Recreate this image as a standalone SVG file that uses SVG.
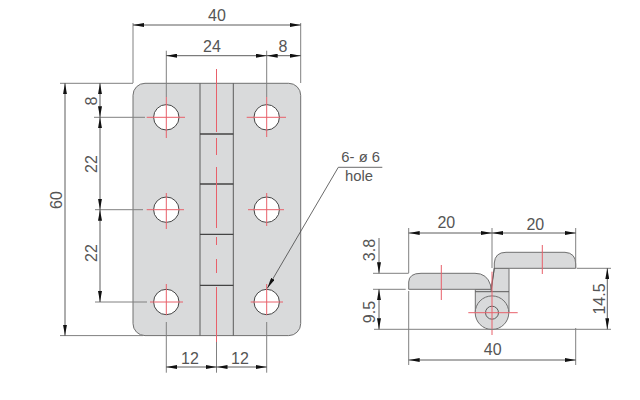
<svg xmlns="http://www.w3.org/2000/svg" width="640" height="400" viewBox="0 0 640 400">
<style>
text{font-family:"Liberation Sans",Arial,sans-serif;font-size:16px;fill:#555;text-anchor:middle}
.s{font-size:14.8px}
.part{fill:#d9dadb;stroke:#707070;stroke-width:1}
.edge{fill:none;stroke:#5a5a5a;stroke-width:1}
.seam{fill:none;stroke:#444;stroke-width:1.3}
.hole{fill:#fff;stroke:#444;stroke-width:1}
.c{fill:none;stroke:#e8606a;stroke-width:1}
.e{fill:none;stroke:#808080;stroke-width:1}
.d{fill:none;stroke:#333;stroke-width:.8;marker-start:url(#a);marker-end:url(#a)}
.l{fill:none;stroke:#444;stroke-width:.8;marker-end:url(#a)}
</style>
<defs>
<marker id="a" markerUnits="userSpaceOnUse" viewBox="0 0 11 4" refX="11" refY="2" markerWidth="11" markerHeight="4" orient="auto-start-reverse"><path d="M0 0L11 2L0 4Z" fill="#111"/></marker>
</defs>
<rect width="640" height="400" fill="#fff"/>
<g id="plate">
<rect class="part" x="133" y="83.3" width="167.7" height="252.3" rx="12" ry="12"/>
<path class="edge" d="M200 83.3V335.6M233.3 83.3V335.6"/>
<path class="seam" d="M200 134H233.3M200 184H233.3M200 234.3H233.3M200 285.3H233.3"/>
</g>
<g id="holes">
<circle class="hole" cx="166.3" cy="117.3" r="12.7"/>
<circle class="hole" cx="266.7" cy="117.3" r="12.7"/>
<circle class="hole" cx="166.3" cy="209.7" r="12.7"/>
<circle class="hole" cx="266.7" cy="209.7" r="12.7"/>
<circle class="hole" cx="166.3" cy="302" r="12.7"/>
<circle class="hole" cx="266.7" cy="302" r="12.7"/>
</g>
<g id="side-view">
<path class="part" d="M475.3 289.3V312.7H509V268.3H494.3L491 289.3Z"/>
<circle class="part" cx="492" cy="312.7" r="16.8"/>
<path class="part" d="M408.7 289.3V282Q409 273.3 421 273.3H475Q487 273.3 490.5 285L491 289.3Z"/>
<path class="part" d="M494.3 268.3V263Q495 252.3 506 252.3H565Q575.7 253 575.7 264V268.3Z"/>
<path class="edge" d="M475.3 291.7H509M491 292L494.3 268"/>
<circle class="edge" cx="492" cy="312.7" r="6.5"/>
</g>
<g id="centerlines">
<path class="c" d="M146.7 117.3H185M166.3 97V138M246.7 117.3H286M266.7 97V137M146.7 209.7H184M166.3 193V229M248 209.7H284M266.7 193V226M150 302H183M166.3 284V315M250.7 302H283M266.7 284V315"/>
<path class="c" d="M216.5 69V132M216.5 138V155M216.5 167V228M216.5 237V245M216.5 259V273M216.5 287V342"/>
<path class="c" d="M492 271.7V335M468.3 312.7H517.7M441.3 265V300M542.3 245V274"/>
</g>
<g id="connectors">
<path class="e" d="M133 23V83M300.7 23V83M166.3 50.7V97M266.7 50.7V97M60 83.3H133M60 335.6H143M94 117.3H145M95 209.7H143M95 302H147M166.3 322V372.7M266.7 322V372.7M216.5 342V372.7"/>
<path class="e" d="M408.7 228V273M408.7 291V365M492 228V268M575.7 228V268M575.7 328V365M373 273.3H408.7M373 289.3H405.7M576.7 268.3H611M374 329.3H611"/>
<path class="d" d="M133 25H300.7"/>
<path class="d" d="M166.3 55.7H266.7"/>
<path class="d" d="M266.7 55.7H300.7"/>
<path class="d" d="M65 83.3V335.6"/>
<path class="d" d="M100 83.3V117.3"/>
<path class="d" d="M100 117.3V209.7"/>
<path class="d" d="M100 209.7V302"/>
<path class="d" d="M166.3 367H216.5"/>
<path class="d" d="M216.5 367H266.7"/>
<path class="d" d="M408.7 233H492"/>
<path class="d" d="M492 233H575.7"/>
<path class="d" d="M408.7 360H575.7"/>
<path class="d" d="M607.3 268.3V329.3"/>
<path class="l" d="M379 238V273.3"/>
<path class="d" d="M379 289.3V329.3"/>
<path class="l" d="M382.3 167.3H338.3L267.3 288.3"/>
</g>
<g id="labels">
<text x="217" y="21">40</text>
<text x="212" y="52">24</text>
<text x="283" y="52">8</text>
<text x="190" y="363.7">12</text>
<text x="240" y="363.7">12</text>
<text transform="translate(62 200) rotate(-90)">60</text>
<text transform="translate(97 101) rotate(-90)">8</text>
<text transform="translate(97 164) rotate(-90)">22</text>
<text transform="translate(97 253) rotate(-90)">22</text>
<text class="s" x="360.7" y="162">6- ø 6</text>
<text class="s" x="359" y="180.7">hole</text>
<text x="446.3" y="228.3">20</text>
<text x="535.3" y="230">20</text>
<text x="492.7" y="355.3">40</text>
<text transform="translate(375 250) rotate(-90)">3.8</text>
<text transform="translate(375 312) rotate(-90)">9.5</text>
<text transform="translate(605 299) rotate(-90)">14.5</text>
</g>
</svg>
